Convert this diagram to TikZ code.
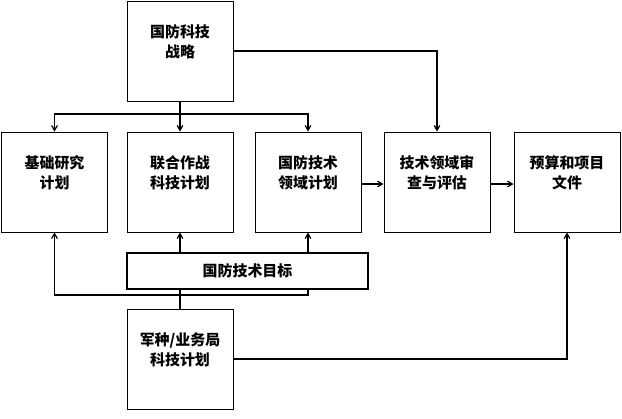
\documentclass[tikz,border=0pt]{standalone}
\usepackage{fontspec}
\newfontfamily\cjk{Noto Sans CJK SC}
\usetikzlibrary{arrows}

\begin{document}
\begin{tikzpicture}[x=1bp,y=-1bp,->,>=angle 60,line width=1.2bp,
                    plan/.style={draw,-,line width=0.9bp,minimum width=106bp,minimum height=100bp,
                                 align=center,font=\cjk\bfseries\fontsize{15}{20}\selectfont,
                                 text height=24bp,text depth=12bp}]
  \useasboundingbox (0,0) rectangle (622,418);

  \node[plan] (strat) at (180,51) {国防科技\\战略};
  \node[plan] (basic) at (54.5,182) {基础研究\\计划};
  \node[plan] (joint) at (180,182) {联合作战\\科技计划};
  \node[plan] (field) at (308,182) {国防技术\\领域计划};
  \node[plan] (review) at (437,182) {技术领域审\\查与评估};
  \node[plan] (budget) at (567,182) {预算和项目\\文件};
  \node[plan] (service) at (180,359) {军种/业务局\\科技计划};
  \node[draw,-,line width=2.6bp,minimum width=241bp,minimum height=36bp,
        font=\cjk\bfseries\fontsize{15}{20}\selectfont] (goal) at (247.5,271) {国防技术目标};

  \coordinate (split) at (180,114);
  \coordinate (merge) at (180,295);

  % strategy feeds the plans
  \draw[-] (strat) -- (split);
  \draw (split) -| (basic);
  \draw (split) -- (joint);
  \draw (split) -| (field);
  \draw (strat) -| (review);

  \draw (field.east |- 0,184) -- (review.west |- 0,184);
  \draw (review.east |- 0,184) -- (budget.west |- 0,184);

  % service plans and goals
  \draw[-] (service.north) -- (goal.south -| service);
  \draw (merge) -| (basic);
  \draw[-] (merge) -| (goal.south -| field);
  \draw (goal.north -| joint) -- (joint);
  \draw (goal.north -| field) -- (field);
  \draw (service) -| (budget);
\end{tikzpicture}
\end{document}
